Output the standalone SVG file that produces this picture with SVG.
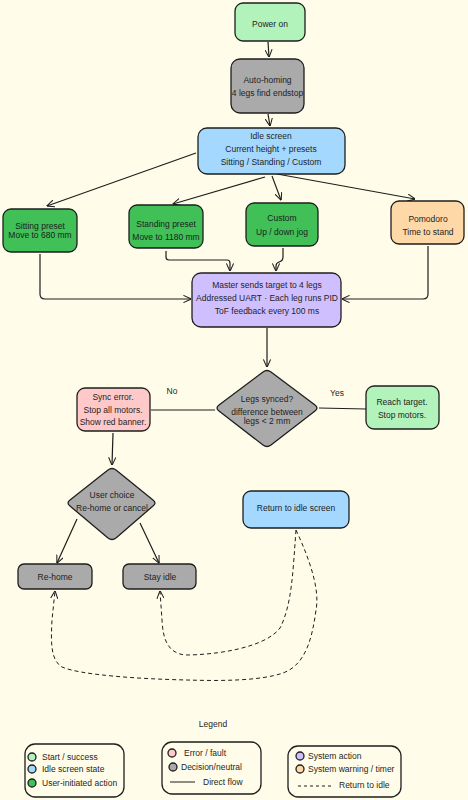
<svg xmlns="http://www.w3.org/2000/svg" width="468" height="800" viewBox="0 0 468 800">
<defs>
<marker id="arr" viewBox="0 0 10 10" refX="9.5" refY="5" markerWidth="8" markerHeight="8" markerUnits="userSpaceOnUse" orient="auto">
<path d="M0,0.5 L10,5 L0,9.5" fill="none" stroke="#1e1e1e" stroke-width="1.3"/>
</marker>
<style>
text{font-family:"Liberation Sans",Arial,sans-serif;font-size:8.5px;fill:#1e1e1e}
.c{text-anchor:middle}
.n{stroke:#1e1e1e;stroke-width:1.3}
.e{fill:none;stroke:#1e1e1e;stroke-width:1.2}
.ea{fill:none;stroke:#1e1e1e;stroke-width:1.2;marker-end:url(#arr)}
.d{fill:none;stroke:#1e1e1e;stroke-width:1;stroke-dasharray:4 3;marker-end:url(#arr)}
.g1{fill:#b2f2bb}.gr{fill:#aaaaaa}.bl{fill:#a5d8ff}.g2{fill:#40c057}.or{fill:#ffd8a8}.pu{fill:#d0bfff}.pk{fill:#ffc9c9}
</style>
</defs>
<rect width="468" height="800" fill="#fffde9"/>
<g id="connectors">
<path class="ea" d="M268,42 L269,57"/>
<path class="ea" d="M268,114 L270,126"/>
<path class="ea" d="M196,153 L47,206"/>
<path class="ea" d="M265,177 L173,204"/>
<path class="ea" d="M272,176 L281,200"/>
<path class="ea" d="M277,174 L415,199"/>
<path class="ea" d="M40,254 L40,294 Q40,299 45,299 L191,299"/>
<path class="ea" d="M166,251 L166,257 Q166,260 169,260 L227,260 Q230,260 230,263 L230,271"/>
<path class="ea" d="M283,248 L283,257 Q283,261 279,262 Q276,263 276,266 L276,271"/>
<path class="ea" d="M428,246 L428,294 Q428,299 423,299 L342,299"/>
<path class="ea" d="M267,328 L267,367"/>
<path class="e" d="M215,410 L151,410"/>
<path class="e" d="M319,408 L366,409"/>
<path class="ea" d="M113,433 L112,465"/>
<path class="ea" d="M77,519 L57,563"/>
<path class="ea" d="M140,523 L159,563"/>
<path class="d" d="M296,530 C293,570 292,605 280,628 C265,648 215,655 185,655 C168,653 163,640 162,620 L160,591"/>
<path class="d" d="M296,530 C310,560 320,590 316,610 C312,640 305,665 283,673 C260,681 220,681 187,680 C140,679 80,675 62,667 C50,660 51,640 52,620 L55,591"/>
<text x="172" y="394" class="c" font-size="8">No</text>
<text x="337" y="396" class="c" font-size="8">Yes</text>
</g>
<g id="power"><rect class="n g1" x="235" y="3" width="70" height="38" rx="8"/><text class="c" x="270" y="27">Power on</text></g>
<g id="homing"><rect class="n gr" x="231" y="59" width="73" height="54" rx="9"/><text class="c" x="267.5" y="83">Auto-homing</text><text class="c" x="267.5" y="96">4 legs find endstop</text></g>
<g id="idle"><rect class="n bl" x="198" y="128" width="147" height="46" rx="9"/><text class="c" x="271" y="139">Idle screen</text><text class="c" x="271" y="152">Current height + presets</text><text class="c" x="271" y="165">Sitting / Standing / Custom</text></g>
<g id="sitting"><rect class="n g2" x="3" y="209" width="74" height="43" rx="8"/><text class="c" x="40" y="229">Sitting preset</text><text class="c" x="40" y="238">Move to 680 mm</text></g>
<g id="standing"><rect class="n g2" x="129" y="205" width="74" height="43" rx="8"/><text class="c" x="166" y="227">Standing preset</text><text class="c" x="166" y="240">Move to 1180 mm</text></g>
<g id="custom"><rect class="n g2" x="246" y="203" width="72" height="43" rx="8"/><text class="c" x="282" y="221">Custom</text><text class="c" x="282" y="235">Up / down jog</text></g>
<g id="pomodoro"><rect class="n or" x="391" y="201" width="73" height="43" rx="8"/><text class="c" x="428" y="222">Pomodoro</text><text class="c" x="428" y="235">Time to stand</text></g>
<g id="master"><rect class="n pu" x="192" y="273" width="149" height="54" rx="9"/><text class="c" x="267" y="288">Master sends target to 4 legs</text><text class="c" x="267" y="301">Addressed UART · Each leg runs PID</text><text class="c" x="267" y="314">ToF feedback every 100 ms</text></g>
<g id="synced"><path class="n gr" d="M263,372 Q267,369 271,372 L315,405 Q319,408 315,411 L271,445 Q267,448 263,445 L219,411 Q215,408 219,405 Z"/><text class="c" x="267" y="402">Legs synced?</text><text class="c" x="267" y="415">difference between</text><text class="c" x="267" y="424">legs &lt; 2 mm</text></g>
<g id="syncerror"><rect class="n pk" x="77" y="388" width="73" height="43" rx="8"/><text class="c" x="113" y="400">Sync error.</text><text class="c" x="113" y="413">Stop all motors.</text><text class="c" x="113" y="425">Show red banner.</text></g>
<g id="reach"><rect class="n g1" x="366" y="386" width="73" height="43" rx="8"/><text class="c" x="402" y="405">Reach target.</text><text class="c" x="402" y="418">Stop motors.</text></g>
<g id="userchoice"><path class="n gr" d="M108,470 Q112,467 116,470 L153,500 Q157,503 153,506 L116,538 Q112,541 108,538 L70,506 Q66,503 70,500 Z"/><text class="c" x="112" y="498">User choice</text><text class="c" x="112" y="511">Re-home or cancel</text></g>
<g id="return"><rect class="n bl" x="243" y="491" width="106" height="37" rx="8"/><text class="c" x="296" y="511">Return to idle screen</text></g>
<g id="rehome"><rect class="n gr" x="18" y="564" width="74" height="25" rx="6"/><text class="c" x="55" y="580">Re-home</text></g>
<g id="stayidle"><rect class="n gr" x="123" y="564" width="73" height="25" rx="6"/><text class="c" x="160" y="580">Stay idle</text></g>
<g id="legend">
<text class="c" x="213" y="727">Legend</text>
<rect x="25" y="744" width="99" height="53" rx="10" fill="none" stroke="#1e1e1e" stroke-width="1.3"/>
<circle cx="32" cy="757" r="4" class="n g1" stroke-width="1"/><text x="42" y="760">Start / success</text>
<circle cx="32" cy="769" r="4" class="n bl" stroke-width="1"/><text x="42" y="772">Idle screen state</text>
<circle cx="32" cy="783" r="4" class="n g2" stroke-width="1"/><text x="42" y="786">User-initiated action</text>
<rect x="162" y="742" width="99" height="52" rx="10" fill="none" stroke="#1e1e1e" stroke-width="1.3"/>
<circle cx="172" cy="753" r="4" class="n pk" stroke-width="1"/><text x="184" y="756">Error / fault</text>
<circle cx="173" cy="767" r="4" class="n gr" stroke-width="1"/><text x="181" y="770">Decision/neutral</text>
<line x1="170" y1="782" x2="195" y2="782" stroke="#1e1e1e" stroke-width="1"/><text x="203" y="785">Direct flow</text>
<rect x="288" y="746" width="113" height="51" rx="10" fill="none" stroke="#1e1e1e" stroke-width="1.3"/>
<circle cx="300" cy="756" r="4" class="n pu" stroke-width="1"/><text x="308" y="759">System action</text>
<circle cx="300" cy="769" r="4" class="n or" stroke-width="1"/><text x="308" y="772">System warning / timer</text>
<line x1="298" y1="786" x2="333" y2="786" stroke="#1e1e1e" stroke-width="1" stroke-dasharray="3 3"/><text x="339" y="788">Return to idle</text>
</g>
</svg>
